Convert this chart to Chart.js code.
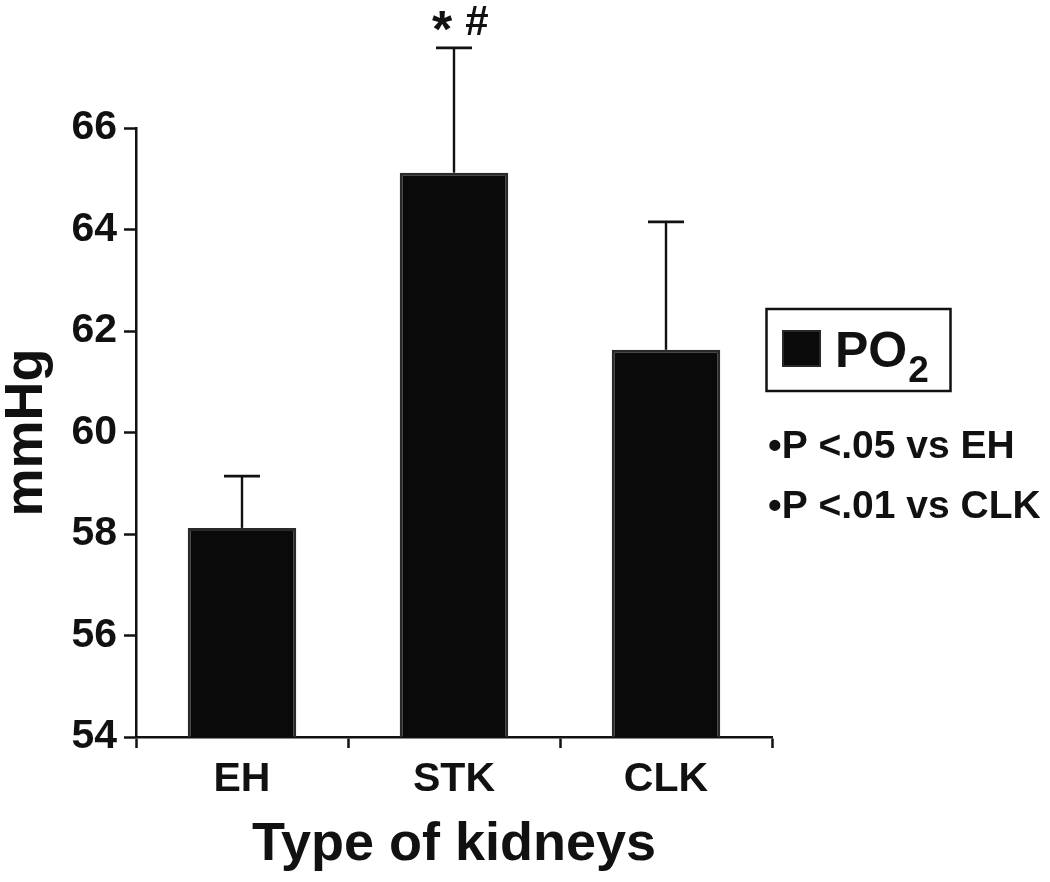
<!DOCTYPE html>
<html>
<head>
<meta charset="utf-8">
<title>PO2 by type of kidneys</title>
<script src="https://cdn.jsdelivr.net/npm/chart.js@4.4.1/dist/chart.umd.min.js"></script>
<style>
  html, body { margin: 0; padding: 0; background: #fff; }
  canvas { display: block; }
</style>
</head>
<body>
<canvas id="chart" width="1050" height="882"></canvas>
<script>
// data
const categories = ['EH', 'STK', 'CLK'];
const po2Means = [58.12, 65.12, 61.63];
const po2ErrorTops = [59.14, 67.58, 64.15]; // upper end of the whiskers
const sigMarks = [null, ['*', '#'], null];
const yTicks = [54, 56, 58, 60, 62, 64, 66];
const legendLabel = 'PO';
const legendSub = '2';
const notes = ['•P <.05 vs EH', '•P <.01 vs CLK'];

const ink = '#111';
const family = "'Liberation Sans', Arial, Helvetica, sans-serif";

const errorBars = {
  id: 'errorBars',
  afterDatasetsDraw(chart) {
    const { ctx, scales: { y } } = chart;
    const meta = chart.getDatasetMeta(0);
    ctx.save();
    ctx.strokeStyle = ink;
    ctx.fillStyle = ink;
    meta.data.forEach((bar, i) => {
      const top = y.getPixelForValue(po2ErrorTops[i]);
      ctx.lineWidth = 2.4;
      ctx.beginPath();
      ctx.moveTo(bar.x, bar.y);
      ctx.lineTo(bar.x, top);
      ctx.stroke();
      ctx.lineWidth = 2.8;
      ctx.beginPath();
      ctx.moveTo(bar.x - 18, top);
      ctx.lineTo(bar.x + 18, top);
      ctx.stroke();

      const marks = sigMarks[i];
      if (marks) {
        ctx.textAlign = 'center';
        ctx.textBaseline = 'alphabetic';
        ctx.font = `bold 52px ${family}`;
        ctx.fillText(marks[0], bar.x - 12, top - 1);
        ctx.font = `bold 42px ${family}`;
        ctx.fillText(marks[1], bar.x + 23, top - 13);
      }
    });
    ctx.restore();
  },
};

const sideLegend = {
  id: 'sideLegend',
  afterDraw(chart) {
    const { ctx } = chart;
    ctx.save();
    // boxed legend
    ctx.strokeStyle = ink;
    ctx.lineWidth = 2.5;
    ctx.strokeRect(766.5, 309, 184, 82);
    ctx.fillStyle = '#0a0a0a';
    ctx.fillRect(782, 330, 39, 37);
    ctx.strokeStyle = '#333';
    ctx.lineWidth = 1.5;
    ctx.strokeRect(783, 331, 37, 35);

    ctx.fillStyle = ink;
    ctx.textAlign = 'left';
    ctx.textBaseline = 'alphabetic';
    ctx.font = `bold 50px ${family}`;
    ctx.fillText(legendLabel, 835, 367);
    const w = ctx.measureText(legendLabel).width;
    ctx.font = `bold 37px ${family}`;
    ctx.fillText(legendSub, 835 + w + 1, 382);

    ctx.font = `bold 39px ${family}`;
    notes.forEach((t, i) => ctx.fillText(t, 768, 458 + i * 60));
    ctx.restore();
  },
};

new Chart(document.getElementById('chart'), {
  type: 'bar',
  data: {
    labels: categories,
    datasets: [{
      label: 'PO2',
      data: po2Means,
      backgroundColor: '#0a0a0a',
      borderColor: '#2a2a2a',
      borderWidth: 3,
      barPercentage: 0.512,
      categoryPercentage: 1,
    }],
  },
  options: {
    responsive: false,
    animation: false,
    layout: { padding: { top: 128, right: 278, left: 0, bottom: 0 } },
    plugins: {
      legend: { display: false },
      tooltip: { enabled: false },
    },
    scales: {
      x: {
        afterFit: (s) => { s.height = 145; },
        border: { display: true, color: ink, width: 2.5 },
        grid: { drawOnChartArea: false, drawTicks: true, tickLength: 11, tickWidth: 2.5, tickColor: ink, offset: true },
        ticks: { color: ink, padding: 11, font: { family, size: 41, weight: 'bold', lineHeight: 1 } },
        title: {
          display: true,
          text: 'Type of kidneys',
          color: ink,
          font: { family, size: 54, weight: 'bold', lineHeight: 1 },
          padding: { top: 0, bottom: 10 },
        },
      },
      y: {
        min: 54,
        max: 66,
        afterBuildTicks: (s) => { s.ticks = yTicks.map((v) => ({ value: v })); },
        afterFit: (s) => { s.width = 136; },
        border: { display: true, color: ink, width: 2.5 },
        grid: { drawOnChartArea: false, drawTicks: true, tickLength: 12, tickWidth: 2.5, tickColor: ink },
        ticks: { color: ink, padding: 7, font: { family, size: 41, weight: 'bold' } },
        title: {
          display: true,
          text: 'mmHg',
          color: ink,
          font: { family, size: 54, weight: 'bold', lineHeight: 1 },
          padding: { top: 0, bottom: 0 },
        },
      },
    },
  },
  plugins: [errorBars, sideLegend],
});
</script>
</body>
</html>
